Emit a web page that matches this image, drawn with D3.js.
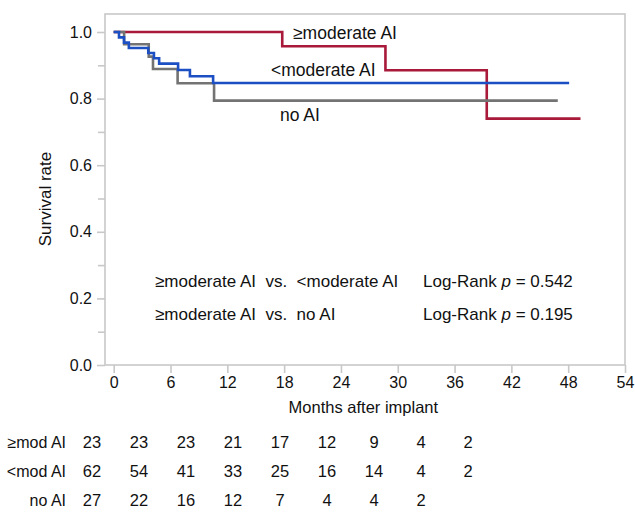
<!DOCTYPE html>
<html>
<head>
<meta charset="utf-8">
<script src="https://cdn.jsdelivr.net/npm/d3@7"></script>
<style>
  body { margin: 0; background: #fff; }
  svg text { font-family: "Liberation Sans", Arial, sans-serif; fill: #111; }
</style>
</head>
<body>
<div id="chart"></div>
<script>
// Kaplan-Meier steps (months, survival)
const modTimes = [0, 17.8, 28.7, 39.4, 49.3];
const modSurv = [1.0, 0.957, 0.885, 0.740, 0.740];
const lessTimes = [0, 0.56, 1.09, 1.6, 3.65, 4.25, 4.8, 6.8, 8.05, 10.5, 48.1];
const lessSurv = [1.0, 0.984, 0.968, 0.952, 0.937, 0.921, 0.905, 0.886, 0.867, 0.847, 0.847];
const noTimes = [0, 1.1, 3.7, 4.15, 6.75, 10.6, 46.9];
const noSurv = [1.0, 0.963, 0.926, 0.889, 0.846, 0.794, 0.794];

const xTicks = [0, 6, 12, 18, 24, 30, 36, 42, 48, 54];
const yTicks = [0, 0.2, 0.4, 0.6, 0.8, 1.0];
const yMinor = [0.1, 0.3, 0.5, 0.7, 0.9];

const riskLabels = ["≥mod AI", "<mod AI", "no AI"];
const riskMod = [23, 23, 23, 21, 17, 12, 9, 4, 2];
const riskLess = [62, 54, 41, 33, 25, 16, 14, 4, 2];
const riskNo = [27, 22, 16, 12, 7, 4, 4, 2];

const W = 635, H = 512;
const frame = { left: 105, right: 625, top: 14, bottom: 365 };

const svg = d3.select("#chart").append("svg")
    .attr("width", W)
    .attr("height", H);

const x = d3.scaleLinear().domain([0, 54]).range([113.7, 625]);
const y = d3.scaleLinear().domain([0, 1]).range([365, 32]);

// frame
svg.append("rect")
    .attr("x", frame.left)
    .attr("y", frame.top)
    .attr("width", frame.right - frame.left)
    .attr("height", frame.bottom - frame.top)
    .attr("fill", "none")
    .attr("stroke", "#c8c8c8")
    .attr("stroke-width", 1.6);

// axes
const xAxis = svg.append("g")
    .attr("transform", `translate(0,${frame.bottom})`)
    .call(d3.axisBottom(x).tickValues(xTicks).tickSize(8).tickPadding(4).tickFormat(d3.format("d")));
const yAxis = svg.append("g")
    .attr("transform", `translate(${frame.left},0)`)
    .call(d3.axisLeft(y).tickValues(yTicks).tickSize(8).tickPadding(5).tickFormat(d3.format(".1f")));
const yAxisMinor = svg.append("g")
    .attr("transform", `translate(${frame.left},0)`)
    .call(d3.axisLeft(y).tickValues(yMinor).tickSize(7).tickFormat(""));

[xAxis, yAxis, yAxisMinor].forEach(g => {
    g.select(".domain").remove();
    g.selectAll(".tick line").attr("stroke", "#c8c8c8").attr("stroke-width", 1.6);
    g.selectAll(".tick text").attr("font-size", 16).attr("fill", "#111")
        .style("font-family", "'Liberation Sans', Arial, sans-serif");
});

svg.append("text")
    .attr("x", (x(0) + x(54)) / 2 - 6)
    .attr("y", 413)
    .attr("text-anchor", "middle")
    .attr("font-size", 16.5)
    .text("Months after implant");

svg.append("text")
    .attr("transform", "translate(51,199) rotate(-90)")
    .attr("text-anchor", "middle")
    .attr("font-size", 17)
    .text("Survival rate");

// curves
const line = d3.line()
    .x(d => x(d[0]))
    .y(d => y(d[1]))
    .curve(d3.curveStepAfter);

const series = [
    { t: modTimes, s: modSurv, color: "#a8193a" },
    { t: noTimes, s: noSurv, color: "#737373" },
    { t: lessTimes, s: lessSurv, color: "#1d4fc4" }
];

series.forEach(sr => {
    svg.append("path")
        .datum(sr.t.map((t, i) => [t, sr.s[i]]))
        .attr("d", line)
        .attr("fill", "none")
        .attr("stroke", sr.color)
        .attr("stroke-width", 2.6);
});

// curve labels
svg.append("text").attr("x", 293).attr("y", 39).attr("font-size", 17.5).text("≥moderate AI");
svg.append("text").attr("x", 271).attr("y", 76).attr("font-size", 17.5).text("<moderate AI");
svg.append("text").attr("x", 280).attr("y", 121).attr("font-size", 17.5).text("no AI");

// log-rank notes
const notes = [
    ["≥moderate AI  vs.  <moderate AI", "0.542"],
    ["≥moderate AI  vs.  no AI", "0.195"]
];
notes.forEach((n, i) => {
    const ty = 287 + i * 33;
    svg.append("text")
        .attr("x", 155).attr("y", ty)
        .attr("font-size", 17)
        .style("white-space", "pre")
        .text(n[0]);
    const t = svg.append("text")
        .attr("x", 423).attr("y", ty)
        .attr("font-size", 17)
        .style("white-space", "pre");
    t.append("tspan").text("Log-Rank ");
    t.append("tspan").attr("font-style", "italic").text("p");
    t.append("tspan").text(" = " + n[1]);
});

// number at risk table
const colX = d3.scaleLinear().domain([0, 8]).range([92, 468]);
const rows = [riskMod, riskLess, riskNo];
rows.forEach((r, i) => {
    const ty = 448 + i * 29;
    svg.append("text")
        .attr("x", 66).attr("y", ty)
        .attr("text-anchor", "end")
        .attr("font-size", 16)
        .text(riskLabels[i]);
    svg.append("g").selectAll("text")
        .data(r)
        .join("text")
        .attr("x", (d, j) => colX(j))
        .attr("y", ty)
        .attr("text-anchor", "middle")
        .attr("font-size", 16.5)
        .text(d => d);
});
</script>
</body>
</html>
